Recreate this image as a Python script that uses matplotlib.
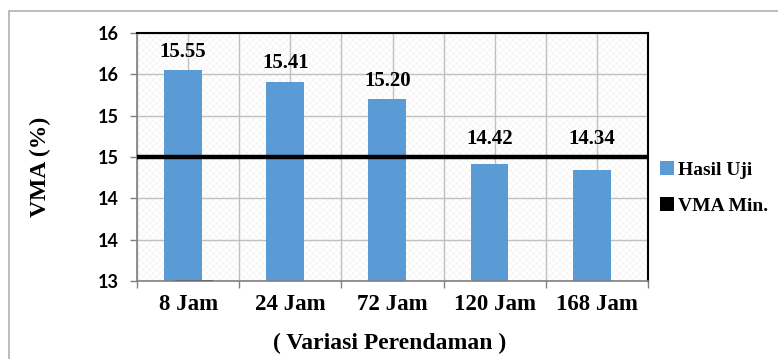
import numpy as np
import matplotlib
matplotlib.use("Agg")
import matplotlib.pyplot as plt
from matplotlib.patches import Patch, Rectangle

# -----------------------------
# Data
# -----------------------------
categories = ["8 Jam", "24 Jam", "72 Jam", "120 Jam", "168 Jam"]
hasil_uji = [15.55, 15.41, 15.20, 14.42, 14.34]
label_text = ["15.55", "15.41", "15.20", "14.42", "14.34"]
vma_min = 14.5
y_ticks = [13.0, 13.5, 14.0, 14.5, 15.0, 15.5, 16.0]
y_tick_labels = ["13", "14", "14", "15", "15", "16", "16"]

blue = "#5B9BD5"
grid_c = "#c0c0c0"
serif = "Liberation Serif"

plt.rcParams["hatch.linewidth"] = 0.4

W, H = 778, 359
fig = plt.figure(figsize=(W / 100, H / 100), dpi=100)

# outer chart border
fig.patches.append(Rectangle((9 / W, -0.1), 1.2, 1 - 11 / H + 0.1,
                             transform=fig.transFigure, fill=False,
                             edgecolor="#b0b0b0", linewidth=1.2))

left, right, top, bottom = 137, 648, 33, 281
ax = fig.add_axes([left / W, 1 - bottom / H, (right - left) / W, (bottom - top) / H])

# hatched plot background
ax.add_patch(Rectangle((0, 0), 1, 1, transform=ax.transAxes, facecolor="white",
                       hatch="xxxxx", edgecolor="#f0f0f0", linewidth=0, zorder=0))

x = np.arange(len(categories))
ax.set_xlim(-0.5, len(categories) - 0.5)
ax.set_ylim(13, 16)

# grid: horizontal at ticks, vertical at centers and boundaries
for yv in y_ticks:
    ax.axhline(yv, color=grid_c, lw=1, zorder=1)
for xv in np.arange(-0.5, len(categories), 0.5):
    ax.axvline(xv, color=grid_c, lw=1, zorder=1)

bw = 0.37
ax.bar(x - 0.05, hasil_uji, width=bw, bottom=0, color=blue, zorder=2)
# tiny VMA Min. bar stub sitting on the axis
ax.bar(x[0] + 0.06, 0.015, width=bw, bottom=13, color="black", zorder=2)

ax.axhline(vma_min, color="black", lw=3.2, zorder=3)

for xi, v, t in zip(x, hasil_uji, label_text):
    ax.annotate(t, (xi - 0.05, max(v, vma_min)), xytext=(0, 6),
                textcoords="offset points", ha="center", va="bottom",
                family=serif, fontweight="bold", fontsize=15, zorder=4)

ax.set_yticks(y_ticks)
ax.set_yticklabels(y_tick_labels, family="Lato", fontweight="bold", fontsize=13)
ax.tick_params(axis="y", length=5, width=1, color="#808080", pad=8)

ax.set_xticks(x)
ax.set_xticklabels(categories, family=serif, fontweight="bold", fontsize=16.5)
ax.set_xticks(np.arange(-0.5, len(categories), 1), minor=True)
ax.tick_params(axis="x", which="major", length=0, pad=9)
ax.tick_params(axis="x", which="minor", length=5, width=1, color="#808080")

for s in ["top", "right"]:
    ax.spines[s].set_color("black")
    ax.spines[s].set_linewidth(1.5)
for s in ["left", "bottom"]:
    ax.spines[s].set_color("#808080")
    ax.spines[s].set_linewidth(1.2)

fig.text(390 / W, 1 - 343 / H, "( Variasi Perendaman )", ha="center", va="center",
         family=serif, fontweight="bold", fontsize=17)
fig.text(40 / W, 1 - 167 / H, "VMA (%)", ha="center", va="center", rotation=90,
         family=serif, fontweight="bold", fontsize=17)

handles = [Patch(facecolor=blue), Patch(facecolor="black")]
fig.legend(handles, ["Hasil Uji", "VMA Min."], loc="upper left",
           bbox_to_anchor=(660 / W, 1 - 161 / H), frameon=False,
           prop={"family": serif, "weight": "bold", "size": 14},
           handlelength=0.7, handleheight=0.7, handletextpad=0.2,
           labelspacing=0.95, borderpad=0, borderaxespad=0)

fig.savefig("out.png", dpi=100)
plt.close()
